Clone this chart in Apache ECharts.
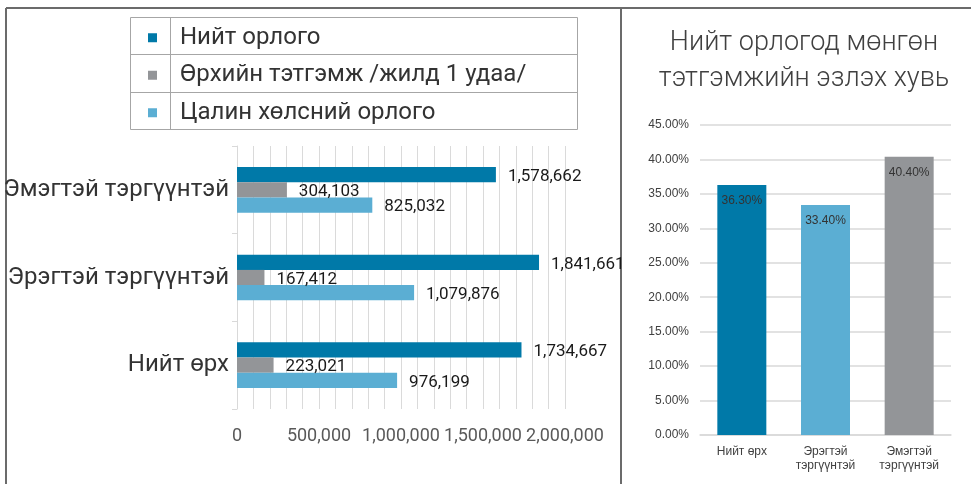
<!DOCTYPE html>
<html>
<head>
<meta charset="utf-8">
<script src="https://cdn.jsdelivr.net/npm/echarts@6/dist/echarts.min.js"></script>
<style>
  html, body { margin: 0; padding: 0; background: #fff; }
  #main { width: 971px; height: 484px; }
</style>
</head>
<body>
<div id="main"></div>
<script>
// left chart: income by household head
const groups = ['Эмэгтэй тэргүүнтэй', 'Эрэгтэй тэргүүнтэй', 'Нийт өрх'];
const seriesNames = ['Нийт орлого', 'Өрхийн тэтгэмж /жилд 1 удаа/', 'Цалин хөлсний орлого'];
const totalIncome = [1578662, 1841661, 1734667];
const benefit = [304103, 167412, 223021];
const wageIncome = [825032, 1079876, 976199];

// right chart: share of cash benefit in total income
const shareCats = ['Нийт өрх', 'Эрэгтэй\nтэргүүнтэй', 'Эмэгтэй\nтэргүүнтэй'];
const shareValues = [36.3, 33.4, 40.4];

const colors = ['#0079a8', '#939598', '#5baed3'];
const shareColors = ['#0079a8', '#5baed3', '#939598'];

const chart = echarts.init(document.getElementById('main'));

const fmt = v => v.toLocaleString('en-US');

// frame lines and legend table
const frame = { stroke: '#6b6b6b', lineWidth: 2 };
const cell = { stroke: '#a6a6a6', lineWidth: 1 };
const graphics = [
  { type: 'line', shape: { x1: 6, y1: 8, x2: 971, y2: 8 }, style: frame, silent: true },
  { type: 'line', shape: { x1: 6, y1: 8, x2: 6, y2: 484 }, style: frame, silent: true },
  { type: 'line', shape: { x1: 621, y1: 8, x2: 621, y2: 484 }, style: frame, silent: true },
  { type: 'rect', shape: { x: 130.5, y: 17.5, width: 447, height: 112 }, style: { fill: 'none', stroke: '#a6a6a6', lineWidth: 1 }, silent: true },
  { type: 'line', shape: { x1: 130, y1: 54.5, x2: 577, y2: 54.5 }, style: cell, silent: true },
  { type: 'line', shape: { x1: 130, y1: 92.5, x2: 577, y2: 92.5 }, style: cell, silent: true },
  { type: 'line', shape: { x1: 170.5, y1: 17, x2: 170.5, y2: 129 }, style: cell, silent: true }
];

const barLabel = {
  show: true,
  position: 'right',
  distance: 12,
  offset: [0, 2],
  color: '#1a1a1a',
  fontSize: 17,
  fontFamily: 'Liberation Sans Narrow, Roboto, sans-serif',
  formatter: p => fmt(p.value)
};

chart.setOption({
  animation: false,
  textStyle: { fontFamily: 'Roboto, "Noto Sans", sans-serif' },
  graphic: graphics,
  title: {
    text: 'Нийт орлогод мөнгөн\nтэтгэмжийн эзлэх хувь',
    left: 799,
    top: 20,
    textAlign: 'center',
    textStyle: {
      fontSize: 27,
      fontWeight: 300,
      color: '#404040',
      lineHeight: 36,
      fontFamily: 'Roboto, sans-serif'
    }
  },
  legend: {
    data: seriesNames,
    orient: 'vertical',
    left: 143,
    top: 14,
    itemGap: 0,
    itemWidth: 9,
    itemHeight: 9,
    icon: 'rect',
    selectedMode: false,
    textStyle: {
      fontSize: 24,
      color: '#333',
      lineHeight: 37.5,
      padding: [0, 0, 0, 18],
      fontFamily: 'Roboto, sans-serif'
    }
  },
  grid: [
    { left: 237, right: 406, top: 146, bottom: 75 },
    { left: 700, right: 20, top: 125, bottom: 49 }
  ],
  xAxis: [
    {
      type: 'value',
      gridIndex: 0,
      min: 0,
      max: 2000000,
      interval: 100000,
      axisLine: { show: false },
      axisTick: { show: false },
      splitLine: { lineStyle: { color: '#dadada', width: 1 } },
      axisLabel: {
        margin: 18,
        fontSize: 18,
        color: '#595959',
        fontFamily: 'Liberation Sans Narrow, Roboto, sans-serif',
        formatter: v => (v % 500000 === 0 ? fmt(v) : '')
      }
    },
    {
      type: 'category',
      gridIndex: 1,
      data: shareCats,
      axisLine: { lineStyle: { color: '#d9d9d9', width: 1.5 } },
      axisTick: { show: false },
      axisLabel: {
        fontSize: 12,
        color: '#404040',
        lineHeight: 14,
        margin: 10,
        fontFamily: 'Liberation Sans, Arial, sans-serif'
      }
    }
  ],
  yAxis: [
    {
      type: 'category',
      gridIndex: 0,
      data: groups,
      inverse: true,
      axisLine: { lineStyle: { color: '#d9d9d9' } },
      axisTick: { show: true, length: 5, lineStyle: { color: '#d9d9d9' } },
      axisLabel: {
        fontSize: 24,
        color: '#333',
        margin: 8,
        fontFamily: 'Roboto, sans-serif'
      }
    },
    {
      type: 'value',
      gridIndex: 1,
      min: 0,
      max: 45,
      interval: 5,
      axisLine: { show: false },
      axisTick: { show: false },
      splitLine: { lineStyle: { color: '#d9d9d9', width: 1.5 } },
      axisLabel: {
        fontSize: 12,
        color: '#404040',
        margin: 11,
        fontFamily: 'Liberation Sans, Arial, sans-serif',
        formatter: v => v.toFixed(2) + '%'
      }
    }
  ],
  series: [
    {
      name: seriesNames[0], type: 'bar', xAxisIndex: 0, yAxisIndex: 0,
      data: totalIncome, itemStyle: { color: colors[0] },
      barGap: '0%', barCategoryGap: '48%', label: barLabel
    },
    {
      name: seriesNames[1], type: 'bar', xAxisIndex: 0, yAxisIndex: 0,
      data: benefit, itemStyle: { color: colors[1] },
      barGap: '0%', barCategoryGap: '48%', label: barLabel
    },
    {
      name: seriesNames[2], type: 'bar', xAxisIndex: 0, yAxisIndex: 0,
      data: wageIncome, itemStyle: { color: colors[2] },
      barGap: '0%', barCategoryGap: '48%', label: barLabel
    },
    {
      name: 'share', type: 'bar', xAxisIndex: 1, yAxisIndex: 1,
      barWidth: 49,
      data: shareValues.map((v, i) => ({ value: v, itemStyle: { color: shareColors[i] } })),
      label: {
        show: true,
        position: 'insideTop',
        distance: 10,
        fontSize: 12,
        color: '#333',
        fontFamily: 'Liberation Sans, Arial, sans-serif',
        formatter: p => p.value.toFixed(2) + '%'
      }
    }
  ]
});
</script>
</body>
</html>
